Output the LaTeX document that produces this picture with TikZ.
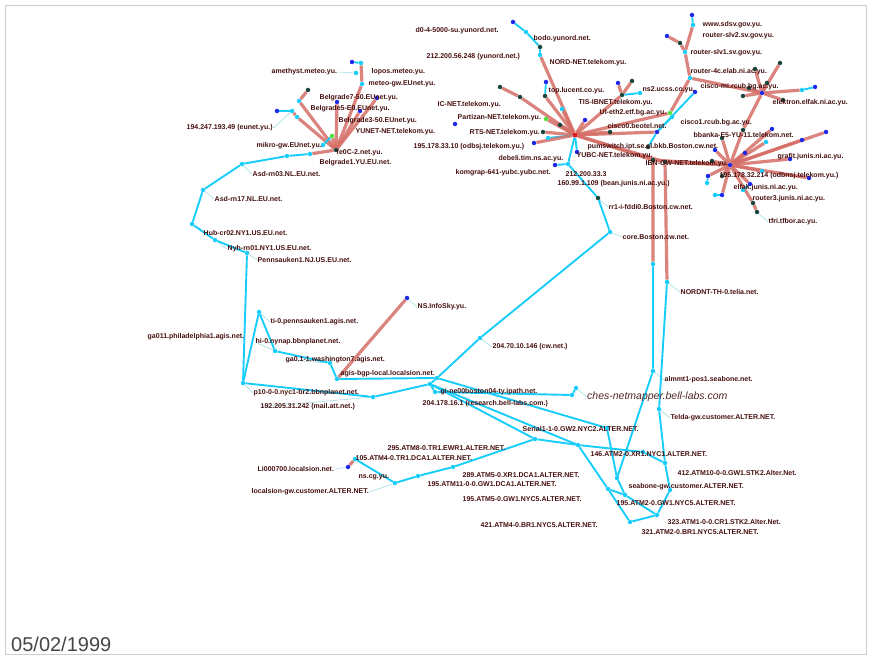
\documentclass[tikz,border=0pt]{standalone}
\usepackage{fontspec}
\setmainfont{Liberation Sans}
\usetikzlibrary{backgrounds}
\definecolor{cy}{RGB}{25,205,250}
\definecolor{bl}{RGB}{30,40,235}
\definecolor{dk}{RGB}{25,70,60}
\definecolor{gr}{RGB}{80,225,60}
\definecolor{rd}{RGB}{212,110,102}
\definecolor{lbc}{RGB}{70,15,15}
\definecolor{hubr}{RGB}{225,30,30}
\definecolor{frm}{RGB}{205,205,205}
\definecolor{ldc}{RGB}{150,215,225}
\begin{document}
\begin{tikzpicture}[x=1pt,y=-1pt,
  dot/.style={circle,inner sep=0pt,minimum size=4.5pt,draw=none},
  dc/.style={dot,fill=cy}, db/.style={dot,fill=bl}, dk/.style={dot,fill=dk},
  dg/.style={dot,fill=gr}, dr/.style={dot,fill=hubr,minimum size=5pt},
  ce/.style={draw=cy,line width=1.9pt,line join=round},
  re/.style={draw=rd,line width=3.2pt,draw opacity=0.85,line join=round},
  lead/.style={draw=ldc,line width=0.5pt},
  lb/.style={anchor=west,inner sep=0.5pt,text=lbc,font=\bfseries\fontsize{7}{8}\selectfont},
  big/.style={anchor=west,inner sep=0pt,text={rgb,255:red,80;green,40;blue,40},font=\itshape\fontsize{10.5}{12}\selectfont},
  datest/.style={anchor=west,inner sep=0pt,text={rgb,255:red,70;green,70;blue,70},font=\fontsize{20}{22}\selectfont}]
\useasboundingbox (0,0) rectangle (874,658);
\draw[frm,line width=0.8pt] (5,5) rectangle (866,654);

% ---------- dots: Belgrade / EUnet ----------
\node[db] (bA) at (352,62) {};
\node[dc] (bB) at (361,63) {};
\node[dc] (bC) at (356,73) {};
\node[dc] (bD) at (362,84) {};
\node[dk] (b1) at (308,90) {};
\node[dc] (b2) at (299,101) {};
\node[dc] (b3) at (297,117) {};
\node[db] (b4) at (277,111) {};
\node[dc] (b5) at (292,111) {};
\node[db] (b6) at (337,102) {};
\node[db] (b7) at (360,111) {};
\node[db] (b8) at (377,98) {};
\node[dg] (b9) at (332,136) {};
\node[dc] (b10) at (323,145) {};
\node[dk] (BH) at (336,150) {};
\node[dc] (eu1) at (310,154) {};
\node[dc] (eu2) at (287,156) {};
\node[dc] (eu3) at (242,164) {};
\node[dc] (eu4) at (203,190) {};
\node[dc] (eu5) at (192,224) {};
\node[dc] (eu6) at (215,240) {};
\node[dc] (eu7) at (247,253) {};
\node[dc] (eu8) at (243,383) {};
\node[dc] (pk) at (259,312) {};
\node[dc] (wa) at (275,351) {};
\node[dc] (wb) at (330,363) {};
\node[dc] (ag) at (337,379) {};
\node[db] (ns) at (407,298) {};
\node[dc] (ml) at (373,397) {};
\node[dc] (hA) at (437,378) {};
\node[dc] (hB) at (430,384) {};
\node[dc] (hC) at (435,392) {};
\node[dc] (cw) at (480,338) {};
\node[dc] (core) at (610,232) {};
\node[dk] (rr1) at (598,198) {};
\node[dc] (bl1) at (572,395) {};
\node[dc] (bl2) at (576,388) {};
% ---------- ALTER ----------
\node[db] (q348) at (348,467) {};
\node[dc] (q355) at (355,459) {};
\node[dc] (q395) at (395,483) {};
\node[dc] (q418) at (418,476) {};
\node[dc] (q453) at (453,467) {};
\node[dc] (a535) at (535,439) {};
\node[dc] (a578) at (578,445) {};
\node[dc] (a607) at (607,428) {};
\node[dc] (a643) at (643,452) {};
\node[dc] (a617) at (617,478) {};
\node[dc] (a608) at (608,489) {};
\node[dc] (a625) at (625,495) {};
\node[dc] (a630) at (630,522) {};
\node[dc] (a665) at (665,463) {};
\node[dc] (a657) at (657,515) {};
\node[dc] (a670) at (670,490) {};
\node[dc] (alm) at (653,371) {};
\node[dc] (tel) at (659,409) {};
\node[dc] (tel1) at (653,264) {};
\node[dc] (tel2) at (667,282) {};
% ---------- top centre ----------
\node[dr] (H1) at (575,135) {};
\node[db] (y1) at (513,22) {};
\node[dc] (y2) at (526,32) {};
\node[dk] (y3) at (540,47) {};
\node[dc] (y4) at (540,55) {};
\node[dk] (ic1) at (500,87) {};
\node[dk] (ic2) at (520,97) {};
\node[db] (t1) at (546,82) {};
\node[dk] (t2) at (545,96) {};
\node[dg] (t3) at (546,119) {};
\node[dk] (t4) at (543,132) {};
\node[dc] (t5) at (548,138) {};
\node[db] (p1) at (455,124) {};
\node[db] (o1) at (534,143) {};
\node[db] (d1) at (555,165) {};
\node[dc] (c568) at (568,164) {};
\node[db] (yb) at (577,152) {};
\node[dc] (c562) at (562,109) {};
\node[dk] (d560) at (560,125) {};
\node[db] (b585) at (585,120) {};
\node[db] (b618) at (618,83) {};
\node[dk] (r622) at (622,95) {};
\node[dk] (d632) at (632,81) {};
\node[dc] (n640) at (640,93) {};
\node[dk] (d610) at (610,132) {};
\node[dg] (g670) at (670,113) {};
\node[dc] (r690) at (690,78) {};
\node[dc] (r685) at (685,52) {};
\node[dk] (r680) at (680,43) {};
\node[db] (b667) at (667,36) {};
\node[dc] (c693) at (693,25) {};
\node[db] (b692) at (692,15) {};
\node[db] (H2) at (657,132) {};
\node[db] (b695) at (695,92) {};
\node[dc] (c672) at (672,117) {};
\node[dk] (d648) at (648,147) {};
\node[dk] (T1) at (653,160) {};
\node[dk] (T2) at (665,162) {};
% ---------- top right ----------
\node[db] (H3) at (762,93) {};
\node[dk] (h3a) at (780,63) {};
\node[dk] (h3b) at (755,69) {};
\node[dk] (h3c) at (749,88) {};
\node[dk] (h3d) at (767,83) {};
\node[dk] (h3e) at (743,96) {};
\node[dk] (h3f) at (783,100) {};
\node[dc] (h3g) at (802,90) {};
\node[db] (h3h) at (815,87) {};
\node[db] (H4) at (730,165) {};
\node[dk] (h4a) at (743,130) {};
\node[dk] (h4b) at (722,138) {};
\node[dc] (h4c) at (766,142) {};
\node[db] (h4d) at (772,129) {};
\node[db] (h4e) at (802,140) {};
\node[db] (h4f) at (826,132) {};
\node[db] (h4g) at (745,153) {};
\node[db] (h4h) at (715,150) {};
\node[dk] (h4i) at (712,161) {};
\node[db] (h4j) at (708,176) {};
\node[dc] (h4k) at (707,183) {};
\node[dc] (h4l) at (715,195) {};
\node[db] (h4m) at (722,195) {};
\node[dk] (h4n) at (722,176) {};
\node[db] (h4o) at (750,184) {};
\node[dc] (h4p) at (743,190) {};
\node[dk] (h4q) at (753,203) {};
\node[dk] (h4r) at (757,212) {};
\node[db] (h4s) at (809,178) {};
\node[db] (h4t) at (790,159) {};
\node[dc] (h4u) at (762,171) {};

% ---------- labels ----------
\node[lb] (l1) at (271,72) {amethyst.meteo.yu.};
\node[lb] (l2) at (371,72) {lopos.meteo.yu.};
\node[lb] (l3) at (368,84) {meteo-gw.EUnet.yu.};
\node[lb] (l4) at (319,98) {Belgrade7-50.EUnet.yu.};
\node[lb] (l5) at (310,109) {Belgrade5-E0.EUnet.yu.};
\node[lb] (l6) at (338,121) {Belgrade3-50.EUnet.yu.};
\node[lb] (l7) at (186,128) {194.247.193.49 (eunet.yu.)};
\node[lb] (l8) at (355,132) {YUNET-NET.telekom.yu.};
\node[lb] (l9) at (256,146) {mikro-gw.EUnet.yu.};
\node[lb] (l10) at (336,153) {fe0C-2.net.yu.};
\node[lb] (l11) at (319,163) {Belgrade1.YU.EU.net.};
\node[lb] (l12) at (252,174) {Asd-rn03.NL.EU.net.};
\node[lb] (l13) at (214,199) {Asd-rn17.NL.EU.net.};
\node[lb] (l14) at (203,233) {Hub-cr02.NY1.US.EU.net.};
\node[lb] (l15) at (227,249) {Nyh-rn01.NY1.US.EU.net.};
\node[lb] (l16) at (257,260) {Pennsauken1.NJ.US.EU.net.};
\node[lb] (l17) at (270,322) {ti-0.pennsauken1.agis.net.};
\node[lb] (l18) at (147,337) {ga011.philadelphia1.agis.net.};
\node[lb] (l19) at (255,342) {hi-0.nynap.bbnplanet.net.};
\node[lb] (l20) at (285,360) {ga0.1-1.washington7.agis.net.};
\node[lb] (l21) at (340,374) {agis-bgp-local.localsion.net.};
\node[lb] (l22) at (253,393) {p10-0-0.nyc1-br2.bbnplanet.net.};
\node[lb] (l23) at (260,407) {192.205.31.242 (mail.att.net.)};
\node[lb] (l24) at (417,307) {NS.InfoSky.yu.};
\node[lb] (l25) at (492,347) {204.70.10.146 (cw.net.)};
\node[lb] (l26) at (440,392) {gi-ne00boston04-ty.ipath.net.};
\node[lb] (l27) at (422,404) {204.178.16.1 (research.bell-labs.com.)};
\node[big] (l28) at (587,397) {ches-netmapper.bell-labs.com};
\node[lb] (l29) at (664,380) {almmt1-pos1.seabone.net.};
\node[lb] (l30) at (670,418) {Telda-gw.customer.ALTER.NET.};
\node[lb] (l31) at (680,292) {NORDNT-TH-0.telia.net.};
\node[lb] (l32) at (622,237) {core.Boston.cw.net.};
\node[lb] (l33) at (608,207) {rr1-i-fddi0.Boston.cw.net.};
\node[lb] (l34) at (522,429) {Serial1-1-0.GW2.NYC2.ALTER.NET.};
\node[lb] (l35) at (387,448) {295.ATM8-0.TR1.EWR1.ALTER.NET.};
\node[lb] (l36) at (355,458) {105.ATM4-0.TR1.DCA1.ALTER.NET.};
\node[lb] (l37) at (590,454) {146.ATM2-0.XR1.NYC1.ALTER.NET.};
\node[lb] (l38) at (677,473) {412.ATM10-0-0.GW1.STK2.Alter.Net.};
\node[lb] (l39) at (462,475) {289.ATM5-0.XR1.DCA1.ALTER.NET.};
\node[lb] (l40) at (427,484) {195.ATM11-0-0.GW1.DCA1.ALTER.NET.};
\node[lb] (l41) at (628,487) {seabone-gw.customer.ALTER.NET.};
\node[lb] (l42) at (462,499) {195.ATM5-0.GW1.NYC5.ALTER.NET.};
\node[lb] (l43) at (616,503) {195.ATM2-0.GW1.NYC5.ALTER.NET.};
\node[lb] (l44) at (480,525) {421.ATM4-0.BR1.NYC5.ALTER.NET.};
\node[lb] (l45) at (667,522) {323.ATM1-0-0.CR1.STK2.Alter.Net.};
\node[lb] (l46) at (641,532) {321.ATM2-0.BR1.NYC5.ALTER.NET.};
\node[lb] (l47) at (257,469) {Li000700.localsion.net.};
\node[lb] (l48) at (358,477) {ns.cg.yu.};
\node[lb] (l49) at (251,492) {localsion-gw.customer.ALTER.NET.};
\node[lb] (l50) at (415,31) {d0-4-5000-su.yunord.net.};
\node[lb] (l51) at (533,39) {bodo.yunord.net.};
\node[lb] (l52) at (426,57) {212.200.56.248 (yunord.net.)};
\node[lb] (l53) at (549,63) {NORD-NET.telekom.yu.};
\node[lb] (l54) at (437,105) {IC-NET.telekom.yu.};
\node[lb] (l55) at (457,118) {Partizan-NET.telekom.yu.};
\node[lb] (l56) at (469,133) {RTS-NET.telekom.yu.};
\node[lb] (l57) at (413,147) {195.178.33.10 (odbsj.telekom.yu.)};
\node[lb] (l58) at (498,159) {debeli.tim.ns.ac.yu.};
\node[lb] (l59) at (455,173) {komgrap-641-yubc.yubc.net.};
\node[lb] (l60) at (576,156) {YUBC-NET.telekom.yu.};
\node[lb] (l61) at (565,174) {212.200.33.3};
\node[lb] (l62) at (557,184) {160.99.1.109 (bean.junis.ni.ac.yu.)};
\node[lb] (l63) at (548,91) {top.lucent.co.yu.};
\node[lb] (l64) at (578,103) {TIS-IBNET.telekom.yu.};
\node[lb] (l65) at (599,113) {UI-eth2.etf.bg.ac.yu.};
\node[lb] (l66) at (642,90) {ns2.ucss.co.yu.};
\node[lb] (l67) at (607,126) {cisco0.beotel.net.};
\node[lb] (l68) at (587,147) {pumswitch.ipt.se.cl.bkb.Boston.cw.net.};
\node[lb] (l69) at (680,123) {cisco1.rcub.bg.ac.yu.};
\node[lb] (l70) at (693,135) {bbanka-E5-YU-11.telekom.net.};
\node[lb] (l71) at (645,164) {IBN-GW-NET.telekom.yu.};
\node[lb] (l72) at (702,25) {www.sdsv.gov.yu.};
\node[lb] (l73) at (702,36) {router-slv2.sv.gov.yu.};
\node[lb] (l74) at (690,53) {router-slv1.sv.gov.yu.};
\node[lb] (l75) at (690,72) {router-4c.elab.ni.ac.yu.};
\node[lb] (l76) at (700,87) {cisco-mi.rcub.bg.ac.yu.};
\node[lb] (l77) at (772,103) {elektron.elfak.ni.ac.yu.};
\node[lb] (l78) at (777,157) {grafit.junis.ni.ac.yu.};
\node[lb] (l79) at (719,176) {195.178.32.214 (odbnsj.telekom.yu.)};
\node[lb] (l80) at (733,188) {elfak.junis.ni.ac.yu.};
\node[lb] (l81) at (752,199) {router3.junis.ni.ac.yu.};
\node[lb] (l82) at (768,222) {tfri.tfbor.ac.yu.};
\node[datest] (date) at (11,644) {05/02/1999};

% ---------- connectors ----------
\begin{scope}[on background layer]
% leaders
\draw[lead] (eu3) -- (l12.west);
\draw[lead] (eu4) -- (l13.west);
\draw[lead] (eu5) -- (l14.west);
\draw[lead] (eu6) -- (l15.west);
\draw[lead] (eu7) -- (l16.west);
\draw[lead] (pk) -- (l17.west);
\draw[lead] (wa) -- (l19.west);
\draw[lead] (wb) -- (l20.west);
\draw[lead] (ag) -- (l21.west);
\draw[lead] (eu8) -- (l22.west);
\draw[lead] (ml) -- (l23.west);
\draw[lead] (ns) -- (l24.west);
\draw[lead] (cw) -- (l25.west);
\draw[lead] (core) -- (l32.west);
\draw[lead] (rr1) -- (l33.west);
\draw[lead] (tel2) -- (l31.west);
\draw[lead] (alm) -- (l29.west);
\draw[lead] (tel) -- (l30.west);
\draw[lead] (bl2) -- (l28.west);
\draw[lead] (b10) -- (l9.east);
\draw[lead] (b5) -- (l7.east);
\draw[lead] (bC) -- (l1.east);
\draw[lead] (h4r) -- (l82.west);
\draw[lead] (h4q) -- (l81.west);
\draw[lead] (q348) -- (l47.east);
\draw[lead] (q395) -- (l49.east);
% red and cyan
\draw[re] (bB) -- (bD) -- (BH);
\draw[re] (b1) -- (b2) -- (BH);
\draw[re] (b5) -- (b3) -- (BH);
\draw[re] (b6) -- (BH);
\draw[re] (b7) -- (BH);
\draw[re] (b8) -- (BH);
\draw[re] (b9) -- (BH);
\draw[re] (BH) -- (eu1);
\draw[ce] (bA) -- (bB);
\draw[ce] (b4) -- (b5);
\draw[ce] (b10) -- (b9);
\draw[ce] (eu1) -- (eu2) -- (eu3) -- (eu4) -- (eu5) -- (eu6) -- (eu7) -- (eu8);
\draw[ce] (eu8) -- (pk) -- (wa) -- (wb) -- (ag);
\draw[re] (ag) -- (ns);
\draw[ce] (eu8) -- (ml) -- (hB);
\draw[ce] (ag) -- (hA);
\draw[ce] (hA) -- (hB) -- (hC) -- (bl1) -- (bl2);
\draw[ce] (hA) -- (cw) -- (core) -- (rr1) -- (c568);
\draw[ce] (hB) -- (a578);
\draw[ce] (hB) -- (a535);
\draw[ce] (hA) -- (a607);
\draw[re] (q348) -- (q355);
\draw[ce] (q355) -- (q395) -- (q418) -- (q453) -- (a535) -- (a578);
\draw[ce] (a578) -- (a643) -- (a665);
\draw[ce] (a578) -- (a608) -- (a630) -- (a657) -- (a670) -- (a665) -- (tel) -- (tel2);
\draw[ce] (tel1) -- (alm) -- (a617) -- (a607);
\draw[ce] (a617) -- (a625) -- (a657);
\draw[ce] (a608) -- (a625);
% red backbone
\draw[re] (H1) -- (T1) -- (tel1);
\draw[re] (H1) -- (T2) -- (tel2);
\draw[re] (T2) -- (H4);
\draw[re] (T1) -- (H4);
% hub 1
\draw[ce] (y1) -- (y2) -- (y3) -- (y4);
\draw[re] (y4) -- (H1);
\draw[re] (ic1) -- (ic2) -- (H1);
\draw[ce] (t1) -- (t2);
\draw[re] (t2) -- (H1);
\draw[re] (t3) -- (H1);
\draw[re] (t4) -- (H1);
\draw[ce] (t5) -- (H1);
\draw[re] (o1) -- (H1);
\draw[ce] (d1) -- (c568) -- (H1);
\draw[ce] (yb) -- (H1);
\draw[re] (c562) -- (H1);
\draw[re] (d560) -- (H1);
\draw[re] (b585) -- (H1);
\draw[re] (b618) -- (r622) -- (H1);
\draw[re] (d632) -- (r622);
\draw[ce] (n640) -- (r622);
\draw[re] (d610) -- (H1);
\draw[re] (H1) -- (g670) -- (r690) -- (r685) -- (r680) -- (b667);
\draw[re] (r685) -- (c693);
\draw[ce] (c693) -- (b692);
\draw[re] (H1) -- (H2);
\draw[ce] (H2) -- (b695);
\draw[ce] (H2) -- (c672);
\draw[ce] (H2) -- (d648);
\draw[re] (r690) -- (H3);
% hub 3
\draw[re] (H3) -- (h3a); \draw[re] (H3) -- (h3b); \draw[re] (H3) -- (h3c);
\draw[re] (H3) -- (h3d); \draw[re] (H3) -- (h3e); \draw[re] (H3) -- (h3f);
\draw[re] (H3) -- (h3g); \draw[ce] (h3g) -- (h3h);
\draw[re] (H3) -- (h4a) -- (H4);
% hub 4
\draw[re] (H4) -- (h4b); \draw[re] (H4) -- (h4c); \draw[re] (H4) -- (h4d);
\draw[re] (H4) -- (h4e); \draw[re] (H4) -- (h4f); \draw[re] (H4) -- (h4g);
\draw[re] (H4) -- (h4h); \draw[re] (H4) -- (h4i); \draw[re] (H4) -- (h4j);
\draw[re] (H4) -- (h4n); \draw[re] (H4) -- (h4o); \draw[re] (H4) -- (h4q) -- (h4r);
\draw[re] (H4) -- (h4s); \draw[re] (H4) -- (h4t); \draw[re] (H4) -- (h4u);
\draw[re] (H4) -- (h4m); \draw[ce] (h4l) -- (h4m);
\draw[ce] (h4k) -- (h4j); \draw[ce] (h4p) -- (h4o);
\end{scope}
\end{tikzpicture}
\end{document}
